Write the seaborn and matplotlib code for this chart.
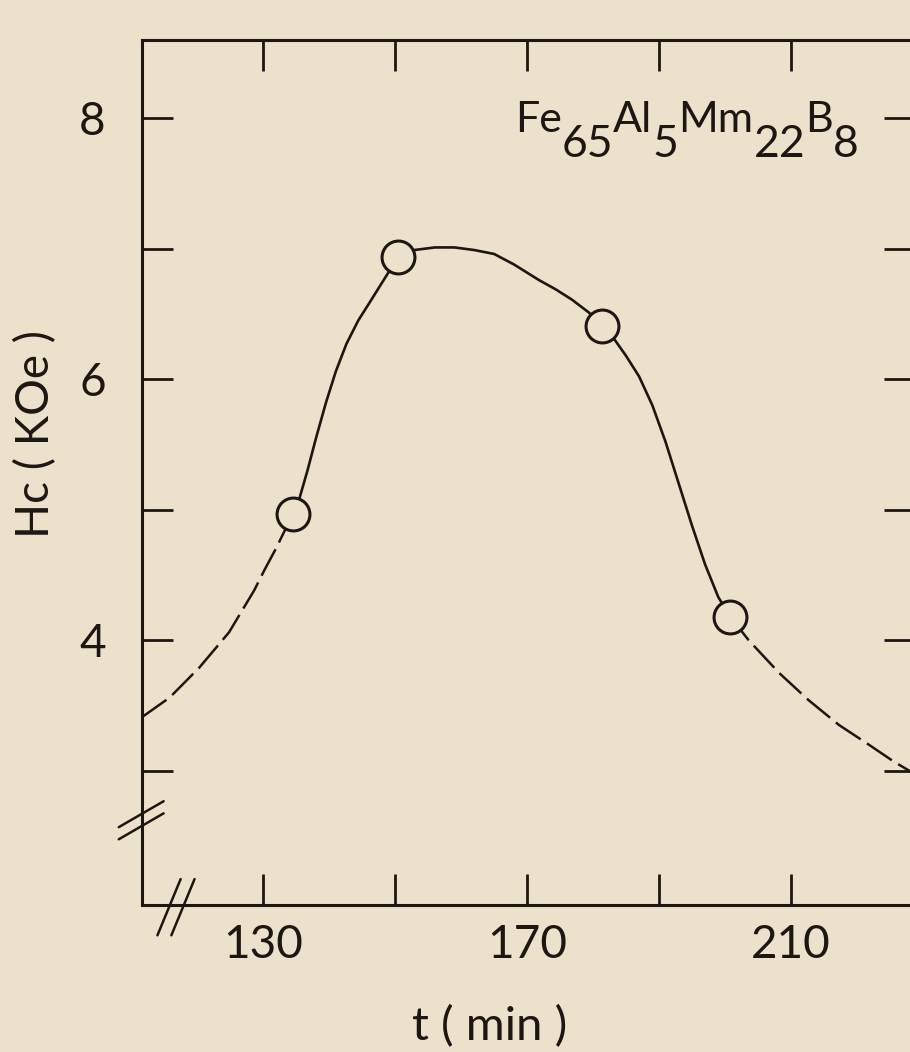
import seaborn as sns
import matplotlib.pyplot as plt
import pandas as pd

# values
t_pts = [134.5, 150.5, 181.4, 200.8]
hc_pts = [4.97, 6.94, 6.41, 4.18]

t_left = [111.6, 115.8, 120.3, 124.8, 128.6, 130.2, 132.0, 134.5]
hc_left = [3.41, 3.56, 3.79, 4.06, 4.38, 4.54, 4.71, 4.97]

t_mid = [134.5, 135.5, 136.7, 138.0, 139.5, 141.0, 142.6, 144.4, 146.4, 148.5, 150.5,
         152.9, 156.0, 159.0, 162.0, 165.0, 168.0, 171.8, 174.3, 176.8, 179.4,
         181.4, 182.9, 185.0, 187.0, 189.0, 191.0, 193.0, 195.0, 197.0, 199.0, 200.8]
hc_mid = [4.97, 5.09, 5.30, 5.55, 5.82, 6.06, 6.27, 6.45, 6.61, 6.78, 6.94,
          6.99, 7.01, 7.01, 6.99, 6.96, 6.88, 6.76, 6.69, 6.61, 6.51,
          6.41, 6.33, 6.18, 6.02, 5.80, 5.52, 5.20, 4.88, 4.58, 4.33, 4.18]

t_right = [200.8, 203.6, 208.2, 212.7, 217.3, 221.8, 225.6, 228.6]
hc_right = [4.18, 4.00, 3.75, 3.54, 3.35, 3.20, 3.07, 2.98]

x_ticks = [130, 150, 170, 190, 210]
x_labels = ['130', '', '170', '', '210']
y_ticks = [3, 4, 5, 6, 7, 8]
y_labels = ['', '4', '', '6', '', '8']

bg = '#ece1cb'
ink = '#1c1712'

sns.set_theme(style='ticks')
plt.rcParams['font.family'] = ['Lato', 'DejaVu Sans']

fig = plt.figure(figsize=(9.1, 10.52), dpi=100, facecolor=bg)
ax = fig.add_axes([0.156, 0.1397, 0.85, 0.8223])
ax.set_facecolor(bg)

seg_l = pd.DataFrame({'t': t_left, 'hc': hc_left})
seg_m = pd.DataFrame({'t': t_mid, 'hc': hc_mid})
seg_r = pd.DataFrame({'t': t_right, 'hc': hc_right})
pts = pd.DataFrame({'t': t_pts, 'hc': hc_pts})

sns.lineplot(data=seg_l, x='t', y='hc', ax=ax, color=ink, lw=1.8, estimator=None,
             linestyle=(0, (12, 3)))
sns.lineplot(data=seg_m, x='t', y='hc', ax=ax, color=ink, lw=1.9, estimator=None)
sns.lineplot(data=seg_r, x='t', y='hc', ax=ax, color=ink, lw=1.8, estimator=None,
             linestyle=(0, (12, 3)))
sns.scatterplot(data=pts, x='t', y='hc', ax=ax, s=560, facecolor=bg,
                edgecolor=ink, linewidth=2.2, zorder=5)

ax.set_xlim(111.6, 228.9)
ax.set_ylim(1.97, 8.6)
ax.set_xticks(x_ticks)
ax.set_xticklabels(x_labels)
ax.set_yticks(y_ticks)
ax.set_yticklabels(y_labels)
ax.tick_params(direction='in', length=22, width=2, color=ink, labelcolor=ink,
               top=True, right=True, labelsize=33)
ax.tick_params(axis='x', pad=14)
ax.tick_params(axis='y', pad=26)
for s in ax.spines.values():
    s.set_linewidth(2.2)
    s.set_color(ink)

ax.set_xlabel('t ( min )', fontsize=34, color=ink)
ax.xaxis.set_label_coords(0.45, -0.116)
ax.set_ylabel('Hc ( KOe )', fontsize=33, color=ink)
ax.yaxis.set_label_coords(-0.11, 0.545)

# composition label with large subscripts
parts = [('Fe', 0), ('65', -26), ('Al', 0), ('5', -26), ('Mm', 0), ('22', -26), ('B', 0), ('8', -26)]
prev = ax.text(0.482, 0.894, parts[0][0], transform=ax.transAxes, fontsize=31,
               color=ink, ha='left', va='baseline')
base = 0
for txt, dy in parts[1:]:
    prev = ax.annotate(txt, xy=(1, 0), xycoords=prev, xytext=(0, dy - base),
                       textcoords='offset pixels', fontsize=32 if dy else 31,
                       color=ink, ha='left', va='bottom')
    base = dy

# axis break marks
kw = dict(transform=ax.transAxes, color=ink, lw=1.8, clip_on=False)
for off in (0, 0.014):
    ax.plot([-0.03, 0.028], [0.092 + off - 0.016, 0.092 + off + 0.014], **kw)
for off in (0, 0.018):
    ax.plot([0.02 + off, 0.05 + off], [-0.035, 0.03], **kw)

fig.savefig('out.png', dpi=100, facecolor=bg)
